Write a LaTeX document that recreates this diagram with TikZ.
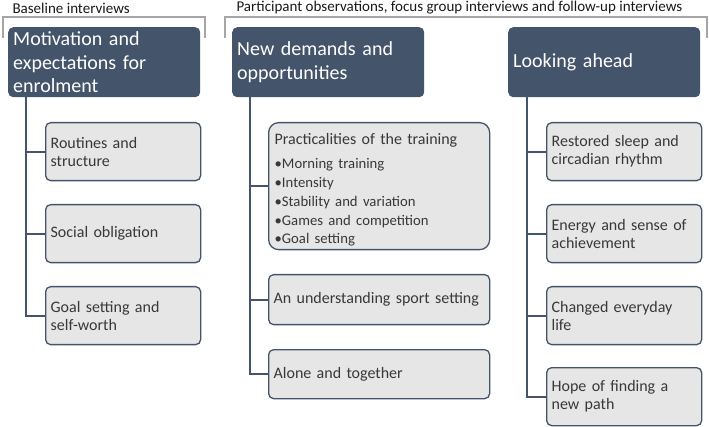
\documentclass[tikz,border=0pt]{standalone}
\usepackage{fontspec}
\setmainfont{Carlito}
\definecolor{slate}{HTML}{44546A}
\definecolor{panel}{HTML}{E7E6E6}
\definecolor{brace}{HTML}{A6A6A6}

\begin{document}
\begin{tikzpicture}[x=1pt, y=-1pt,
    header/.style={anchor=north west, fill=slate, rounded corners=5pt, text=white,
      font=\fontsize{20}{23.5}\selectfont, align=left, inner xsep=5pt,
      minimum height=70pt, text width=182pt},
    theme/.style={anchor=north west, fill=panel, draw=slate, line width=1.3pt,
      rounded corners=5pt, text=black!78, font=\fontsize{16}{18}\selectfont,
      align=left, inner xsep=5pt, minimum height=58pt},
    link/.style={draw=slate, line width=2pt},
    span/.style={draw=brace, line width=2pt},
    phase/.style={anchor=west, text=black!90, font=\fontsize{15}{17}\selectfont}]
  \useasboundingbox (0, 0) rectangle (709, 427);

  % Phases of data collection
  \draw [span] (3, 38) -- (3, 17) -- (205, 17) -- (205, 38);
  \draw [span] (225, 38) -- (225, 17) -- (707, 17) -- (707, 38);
  \node [phase] (p1) at (9, 8) {Baseline interviews};
  \node [phase] (p2) at (233, 8) {Participant observations, focus group interviews and follow-up interviews};

  % Main themes
  \node [header] (h1) at (8, 27) {Motivation and\\expectations for\\enrolment};
  \node [header] (h2) at (232, 27) {New demands and\\opportunities};
  \node [header] (h3) at (508, 27) {Looking ahead};

  % Sub-themes, first column
  \node [theme, text width=145pt] (c11) at (45, 122) {Routines and\\structure};
  \node [theme, text width=145pt] (c12) at (45, 204) {Social obligation};
  \node [theme, text width=145pt] (c13) at (45, 286) {Goal setting and\\self-worth};

  % Sub-themes, second column
  \node [theme, text width=209pt, minimum height=127pt, rounded corners=10pt,
         inner xsep=6pt] (c21) at (268, 122)
    {{\fontsize{16}{19}\selectfont\rule{0pt}{18pt}Practicalities of the training}\\[5pt]
     \fontsize{14.7}{19}\selectfont •Morning training\\•Intensity\\•Stability and variation\\
     •Games and competition\\•Goal setting};
  \node [theme, text width=211pt, minimum height=50pt] (c22) at (268, 274) {An understanding sport setting};
  \node [theme, text width=211pt, minimum height=49pt] (c23) at (268, 349) {Alone and together};

  % Sub-themes, third column
  \node [theme, text width=145pt] (c31) at (546, 122) {Restored sleep and\\circadian rhythm};
  \node [theme, text width=145pt] (c32) at (546, 204) {Energy and sense of\\achievement};
  \node [theme, text width=145pt] (c33) at (546, 286) {Changed everyday\\life};
  \node [theme, text width=145pt] (c34) at (546, 367) {Hope of finding a\\new path};

  % Trunks and branches
  \coordinate (t1) at ([xshift=18pt]h1.south west);
  \coordinate (t2) at ([xshift=18pt]h2.south west);
  \coordinate (t3) at ([xshift=19pt]h3.south west);
  \foreach \t/\c in {t1/c11, t1/c12, t1/c13, t2/c21, t2/c22, t2/c23,
                     t3/c31, t3/c32, t3/c33, t3/c34} {
    \draw [link] (\t) |- (\c.west);
  }
\end{tikzpicture}
\end{document}
